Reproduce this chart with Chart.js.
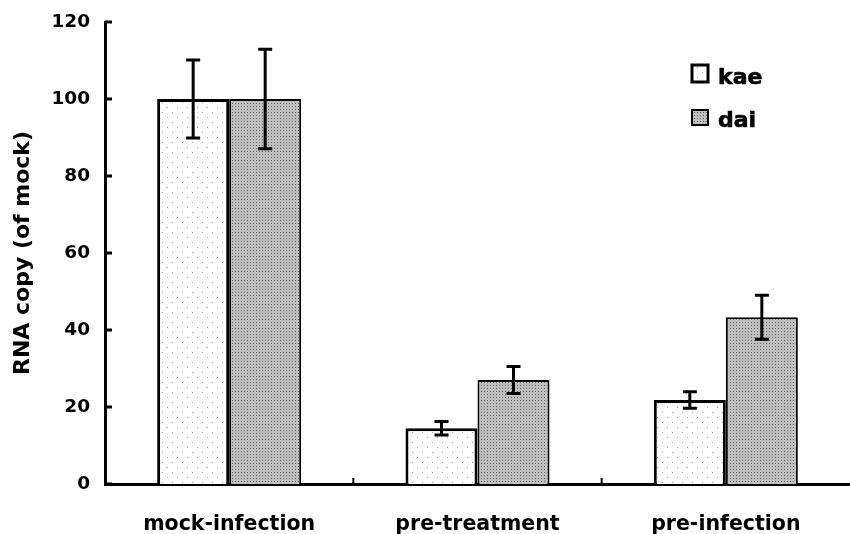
<!DOCTYPE html>
<html>
<head>
<meta charset="utf-8">
<script src="https://cdn.jsdelivr.net/npm/chart.js@4.4.1/dist/chart.umd.min.js"></script>
<style>
  html, body { margin: 0; padding: 0; background: #fff; }
  #wrap { width: 850px; height: 534px; }
</style>
</head>
<body>
<div id="wrap"><canvas id="chart" width="850" height="534"></canvas></div>
<script>
const categories = ["mock-infection", "pre-treatment", "pre-infection"]
const kaeValues = [100, 14.5, 21.8]
const kaeErrors = [10.1, 1.75, 2.15]
const daiValues = [100, 27.0, 43.3]
const daiErrors = [12.9, 3.5, 5.7]
const yTicks = [0, 20, 40, 60, 80, 100, 120]

const FONT = "'DejaVu Sans', sans-serif"

function makePattern(size, bg, dots, dotColor) {
  const c = document.createElement("canvas")
  c.width = size
  c.height = size
  const g = c.getContext("2d")
  g.fillStyle = bg
  g.fillRect(0, 0, size, size)
  g.fillStyle = dotColor
  dots.forEach(d => g.fillRect(d[0], d[1], 1, 1))
  return document.getElementById("chart").getContext("2d").createPattern(c, "repeat")
}

const kaeFill = makePattern(10, "#ffffff", [[2, 2], [7, 7]], "#9d9dd4")
const daiFill = makePattern(3, "#bfbfbf", [[1, 1]], "#666666")

const errors = [kaeErrors, daiErrors]

const errorBars = {
  id: "errorBars",
  afterDatasetsDraw(chart) {
    const ctx = chart.ctx
    const y = chart.scales.y
    ctx.save()
    ctx.strokeStyle = "#000"
    ctx.lineWidth = 3
    chart.data.datasets.forEach((ds, di) => {
      const meta = chart.getDatasetMeta(di)
      meta.data.forEach((bar, i) => {
        const v = ds.data[i]
        const e = errors[di][i]
        const top = y.getPixelForValue(v + e)
        const bot = y.getPixelForValue(v - e)
        ctx.beginPath()
        ctx.moveTo(bar.x, top)
        ctx.lineTo(bar.x, bot)
        ctx.moveTo(bar.x - 7, top)
        ctx.lineTo(bar.x + 7, top)
        ctx.moveTo(bar.x - 7, bot)
        ctx.lineTo(bar.x + 7, bot)
        ctx.stroke()
      })
    })
    ctx.restore()
  }
}

// inner tick marks + legend
const extras = {
  id: "extras",
  afterDraw(chart) {
    const ctx = chart.ctx
    const x = chart.scales.x
    const y = chart.scales.y
    const area = chart.chartArea
    ctx.save()
    ctx.strokeStyle = "#000"
    ctx.lineWidth = 3
    ctx.beginPath()
    y.ticks.forEach(t => {
      const py = y.getPixelForValue(t.value)
      ctx.moveTo(area.left, py)
      ctx.lineTo(area.left + 7, py)
    })
    ctx.stroke()
    ctx.lineWidth = 2
    ctx.beginPath()
    for (let i = 1; i < categories.length; i++) {
      const px = (x.getPixelForValue(i - 1) + x.getPixelForValue(i)) / 2
      ctx.moveTo(px, area.bottom)
      ctx.lineTo(px, area.bottom - 6)
    }
    ctx.stroke()

    // legend
    const items = [
      { label: "kae", fill: kaeFill, lw: 3, y: 65, h: 17 },
      { label: "dai", fill: daiFill, lw: 2, y: 110, h: 15 }
    ]
    ctx.font = "bold 22px " + FONT
    ctx.textBaseline = "alphabetic"
    items.forEach(it => {
      ctx.fillStyle = it.fill
      ctx.fillRect(692, it.y, 16, it.h)
      ctx.strokeStyle = "#000"
      ctx.lineWidth = it.lw
      ctx.strokeRect(692, it.y, 16, it.h)
      ctx.fillStyle = "#000"
      ctx.fillText(it.label, 718, it.y + it.h + 2)
      ctx.lineWidth = 0.6
      ctx.strokeText(it.label, 718, it.y + it.h + 2)
    })
    ctx.restore()
  }
}

new Chart(document.getElementById("chart"), {
  type: "bar",
  data: {
    labels: categories,
    datasets: [
      {
        label: "kae",
        data: kaeValues,
        backgroundColor: kaeFill,
        borderColor: "#000",
        borderWidth: 3,
        barPercentage: 1,
        categoryPercentage: 0.58
      },
      {
        label: "dai",
        data: daiValues,
        backgroundColor: daiFill,
        borderColor: "#000",
        borderWidth: 2,
        barPercentage: 1,
        categoryPercentage: 0.58
      }
    ]
  },
  options: {
    responsive: false,
    animation: false,
    events: [],
    layout: { padding: { top: 22, right: 0, bottom: 0, left: 0 } },
    plugins: {
      legend: { display: false },
      tooltip: { enabled: false }
    },
    scales: {
      x: {
        grid: { display: false, drawTicks: false },
        border: { display: true, color: "#000", width: 3 },
        ticks: { font: { family: FONT, size: 20.5, weight: "bold" }, color: "#000", padding: 28, maxRotation: 0 },
        afterFit: s => { s.height = 50 }
      },
      y: {
        min: 0,
        max: 120,
        afterBuildTicks: s => { s.ticks = yTicks.map(v => ({ value: v })) },
        grid: { display: false, drawTicks: false },
        border: { display: true, color: "#000", width: 3 },
        ticks: { font: { family: FONT, size: 18.5, weight: "bold" }, color: "#000", padding: 15 },
        title: {
          display: true,
          text: "RNA copy (of mock)",
          font: { family: FONT, size: 22, weight: "bold" },
          color: "#000",
          padding: { top: 10, bottom: 0 }
        },
        afterFit: s => {
          s.width = 105
          s.paddingTop = 0
          s.paddingBottom = 0
        }
      }
    }
  },
  plugins: [errorBars, extras]
})
</script>
</body>
</html>
